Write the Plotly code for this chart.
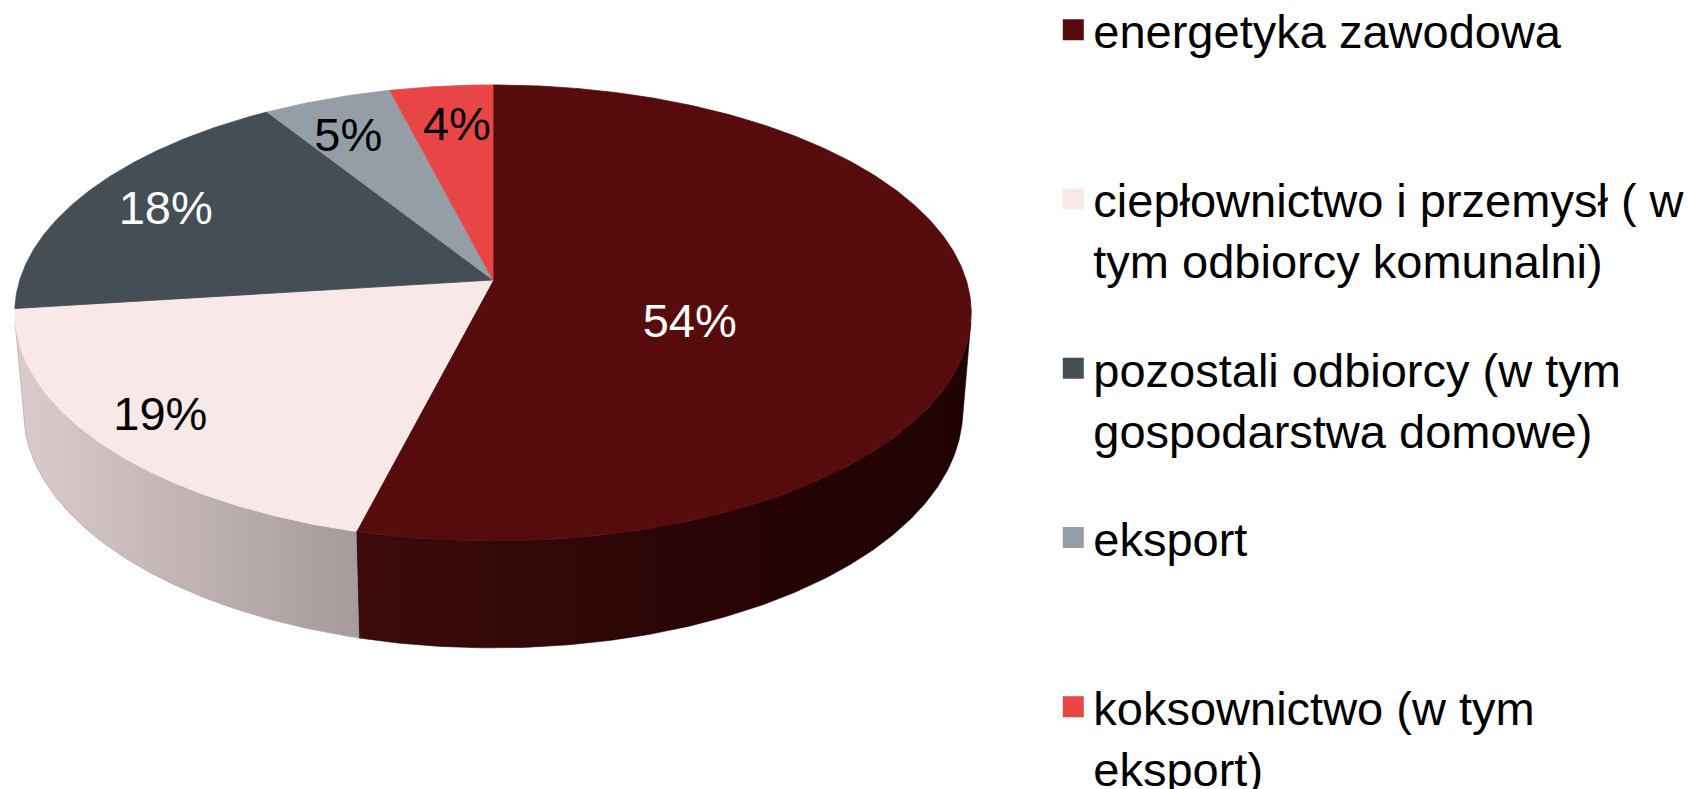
import math
import plotly.graph_objects as go

# ---- data ----
categories = [
    "energetyka zawodowa",
    "ciepłownictwo i przemysł ( w<br>tym odbiorcy komunalni)",
    "pozostali odbiorcy (w tym<br>gospodarstwa domowe)",
    "eksport",
    "koksownictwo (w tym<br>eksport)",
]
values = [54, 19, 18, 5, 4]
labels = ["54%", "19%", "18%", "5%", "4%"]

# ---- style ----
top_colors = ["#560c0c", "#f9e8e8", "#454d55", "#959ea7", "#e84646"]
wall_gradients = [
    [[0, "#3d0b0b"], [0.5, "#2b0505"], [1, "#1f0202"]],
    [[0, "#dccbcc"], [1, "#a59b9b"]],
    [[0, "#30363c"], [1, "#202428"]],
    [[0, "#70777e"], [1, "#50565c"]],
    [[0, "#b03030"], [1, "#801818"]],
]
label_colors = ["white", "black", "white", "black", "black"]
label_r = [0.45, 0.86, 0.79, 0.77, 0.76]
label_shift = [19, 0, -1.5, -2.5, 0.8]
FONT = "Arial, Liberation Sans, sans-serif"

# ---- 3D projection of the pie (camera model) ----
CX, CY = 493, 280
FX, FY = 2896, 2932
D = 6.12
PHI = math.asin(0.466)
S, C = math.sin(PHI), math.cos(PHI)
H = 0.231


def proj(r, th_deg, z=0.0):
    th = math.radians(th_deg)
    x = r * math.sin(th)
    y = r * math.cos(th)
    up = y * S + z * C
    depth = D + y * C - z * S
    return CX + FX * x / depth, CY - FY * up / depth


def arc(a, b, z=0.0, n=None):
    if n is None:
        n = max(4, int(abs(b - a) * 2))
    pts = [proj(1.0, a + (b - a) * i / n, z) for i in range(n + 1)]
    return [p[0] for p in pts], [p[1] for p in pts]


total = sum(values)
bounds = []
acc = 0.0
for v in values:
    a = acc / total * 360.0
    acc += v
    b = acc / total * 360.0
    bounds.append((a, b))

# visible range of the outer wall
vis = math.degrees(math.acos(-1.0 / (D * C)))
vis_lo, vis_hi = vis, 360.0 - vis

fig = go.Figure()

# walls
for i, (a, b) in enumerate(bounds):
    lo, hi = max(a, vis_lo), min(b, vis_hi)
    if hi <= lo:
        continue
    tx, ty = arc(lo, hi, 0.0)
    bx, by = arc(hi, lo, -H)
    fig.add_trace(go.Scatter(
        x=tx + bx + [tx[0]], y=ty + by + [ty[0]],
        mode="lines", fill="toself",
        line=dict(width=0.6, color=wall_gradients[i][-1][1]),
        fillgradient=dict(type="horizontal", colorscale=wall_gradients[i]),
        showlegend=False, hoverinfo="skip",
    ))

# top faces
for i, (a, b) in enumerate(bounds):
    ax_, ay_ = arc(a, b, 0.0)
    fig.add_trace(go.Scatter(
        x=[CX] + ax_ + [CX], y=[CY] + ay_ + [CY],
        mode="lines", fill="toself", fillcolor=top_colors[i],
        line=dict(width=0.8, color=top_colors[i]),
        showlegend=False, hoverinfo="skip",
    ))

# data labels
lx, ly = [], []
for i, (a, b) in enumerate(bounds):
    px, py = proj(label_r[i], (a + b) / 2 + label_shift[i], 0.0)
    lx.append(px)
    ly.append(py)
fig.add_trace(go.Scatter(
    x=lx, y=ly, mode="text", text=labels,
    textfont=dict(family=FONT, size=47, color=label_colors),
    textposition="middle center", showlegend=False, hoverinfo="skip",
))

# legend entries
for i, name in enumerate(categories):
    nm = name if "<br>" in name else name + "<br> "
    fig.add_trace(go.Scatter(
        x=[None], y=[None], mode="markers", name=nm,
        legendgroup=f"g{i}",
        marker=dict(symbol="square", size=16, color=top_colors[i],
                    line=dict(color=top_colors[i], width=5)),
        hoverinfo="skip",
    ))

fig.update_layout(
    width=1703, height=789,
    margin=dict(l=0, r=0, t=0, b=0, autoexpand=False),
    paper_bgcolor="white", plot_bgcolor="white",
    xaxis=dict(range=[0, 1703], visible=False, fixedrange=True),
    yaxis=dict(range=[789, 0], visible=False, fixedrange=True),
    showlegend=True,
    legend=dict(
        x=0.6185, y=1.0091, xanchor="left", yanchor="top",
        font=dict(family=FONT, size=47, color="black"),
        tracegroupgap=44, valign="top", traceorder="grouped",
        bgcolor="rgba(0,0,0,0)", maxheight=2000,
    ),
)

fig.write_html(
    "out.html",
    config={"displayModeBar": False},
    post_script="document.body.style.margin='0';document.body.style.padding='0';document.body.style.overflow='hidden';",
)
